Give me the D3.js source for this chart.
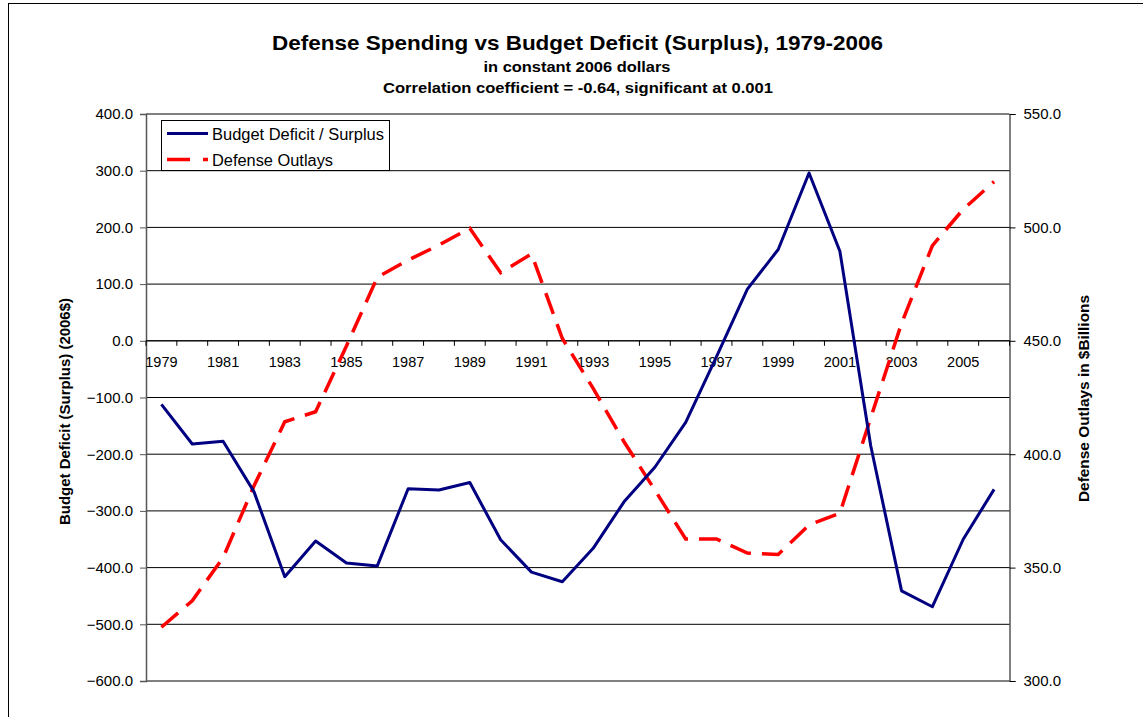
<!DOCTYPE html>
<html>
<head>
<meta charset="utf-8">
<script src="https://cdn.jsdelivr.net/npm/d3@7"></script>
<style>
  html, body { margin: 0; padding: 0; background: #fff; }
  svg { display: block; }
  text { font-family: "Liberation Sans", Arial, sans-serif; fill: #000; }
</style>
</head>
<body>
<svg id="chart" width="1143" height="717"></svg>
<script>
const years = [1979,1980,1981,1982,1983,1984,1985,1986,1987,1988,1989,1990,1991,1992,
               1993,1994,1995,1996,1997,1998,1999,2000,2001,2002,2003,2004,2005,2006];
const budgetDeficit = [-112,-182,-177,-266,-416,-353,-392,-397,-261,-263,-250,-351,-408,-425,
                       -366,-284,-223,-144,-28,91,161,296,158,-185,-441,-469,-350,-262];
const defenseOutlays = [323.7,335.4,354.4,386,414.3,418.7,447.7,478,485.6,492.2,499.6,480,488.3,451,
                        429,405.5,384.2,362.6,362.6,356.4,355.8,368.8,374,416,457.7,492,508,520.2];
const leftTicks = [400,300,200,100,0,-100,-200,-300,-400,-500,-600];
const rightTicks = [550,500,450,400,350,300];
const seriesNames = ["Budget Deficit / Surplus", "Defense Outlays"];
const titleLines = ["Defense Spending vs Budget Deficit (Surplus), 1979-2006",
                    "in constant 2006 dollars",
                    "Correlation coefficient = -0.64, significant at 0.001"];
const leftTitle = "Budget Deficit (Surplus) (2006$)";
const rightTitle = "Defense Outlays in $Billions";

const svg = d3.select("#chart");
const L = 146, R = 1009.5, T = 114, B = 681;

// outer chart border
svg.append("rect").attr("x", 8.5).attr("y", 3.5).attr("width", 1140).attr("height", 720)
  .attr("fill", "none").attr("stroke", "#000").attr("stroke-width", 1);

const x = d3.scaleBand().domain(years).range([L, R]).padding(0);
const yL = d3.scaleLinear().domain([-600, 400]).range([B, T]);
const yR = d3.scaleLinear().domain([300, 550]).range([B, T]);

// gridlines
svg.append("g").selectAll("line").data(leftTicks).join("line")
  .attr("x1", L).attr("x2", R)
  .attr("y1", d => yL(d)).attr("y2", d => yL(d))
  .attr("stroke", "#000").attr("stroke-width", 1);

// left axis
const axL = svg.append("g").attr("transform", `translate(${L},0)`)
  .call(d3.axisLeft(yL).tickValues(leftTicks).tickFormat(d3.format(".1f")).tickSize(6).tickPadding(7));
axL.select(".domain").attr("stroke", "#555").attr("stroke-width", 1.5);
axL.selectAll(".tick line").attr("stroke", "#555");
axL.selectAll("text").style("font-size", "15px").style("font-family", "Liberation Sans, Arial, sans-serif");

// right axis
const axR = svg.append("g").attr("transform", `translate(${R},0)`)
  .call(d3.axisRight(yR).tickValues(rightTicks).tickFormat(d3.format(".1f")).tickSize(6).tickPadding(8));
axR.select(".domain").attr("stroke", "#000");
axR.selectAll("text").style("font-size", "15px").style("font-family", "Liberation Sans, Arial, sans-serif");

// x axis at y = 0 (category axis)
const y0 = yL(0);
const axX = svg.append("g").attr("transform", `translate(0,${y0})`);
axX.append("line").attr("x1", L).attr("x2", R).attr("y1", 0).attr("y2", 0).attr("stroke", "#000");
const boundaries = years.map(d => x(d)).concat([x(years[years.length-1]) + x.bandwidth()]);
axX.selectAll("line.tk").data(boundaries).join("line").attr("class", "tk")
  .attr("x1", d => d).attr("x2", d => d).attr("y1", 0).attr("y2", 5)
  .attr("stroke", "#000");
axX.selectAll("text").data(years.filter((d, i) => i % 2 === 0)).join("text")
  .attr("x", d => x(d) + x.bandwidth() / 2).attr("y", 26)
  .attr("text-anchor", "middle").style("font-size", "14.5px")
  .text(d => d);

// lines
const lineL = d3.line().x((d, i) => x(years[i]) + x.bandwidth() / 2).y(d => yL(d));
const lineR = d3.line().x((d, i) => x(years[i]) + x.bandwidth() / 2).y(d => yR(d));

svg.append("path").datum(defenseOutlays).attr("d", lineR)
  .attr("fill", "none").attr("stroke", "#FF0000").attr("stroke-width", 3.5)
  .attr("stroke-dasharray", "22,11");

svg.append("path").datum(budgetDeficit).attr("d", lineL)
  .attr("fill", "none").attr("stroke", "#000080").attr("stroke-width", 3)
  .attr("stroke-linejoin", "round");

// titles
function fitText(sel, len) {
  return sel.attr("textLength", len).attr("lengthAdjust", "spacingAndGlyphs");
}
fitText(svg.append("text").attr("x", 577.5).attr("y", 50).attr("text-anchor", "middle")
  .style("font-size", "21px").style("font-weight", "bold").text(titleLines[0]), 611);
fitText(svg.append("text").attr("x", 577).attr("y", 72).attr("text-anchor", "middle")
  .style("font-size", "15px").style("font-weight", "bold").text(titleLines[1]), 187);
fitText(svg.append("text").attr("x", 578).attr("y", 93).attr("text-anchor", "middle")
  .style("font-size", "15px").style("font-weight", "bold").text(titleLines[2]), 390);

// axis titles
fitText(svg.append("text").attr("transform", "translate(70,411.5) rotate(-90)").attr("text-anchor", "middle")
  .style("font-size", "14.5px").style("font-weight", "bold").text(leftTitle), 227);
fitText(svg.append("text").attr("transform", "translate(1089,398.5) rotate(-90)").attr("text-anchor", "middle")
  .style("font-size", "14.5px").style("font-weight", "bold").text(rightTitle), 207);

// legend
const lg = svg.append("g");
lg.append("rect").attr("x", 161.5).attr("y", 120.5).attr("width", 228).attr("height", 50)
  .attr("fill", "#fff").attr("stroke", "#000").attr("stroke-width", 1);
lg.append("line").attr("x1", 167).attr("x2", 208).attr("y1", 133.5).attr("y2", 133.5)
  .attr("stroke", "#000080").attr("stroke-width", 3);
lg.append("line").attr("x1", 167).attr("x2", 208).attr("y1", 159.5).attr("y2", 159.5)
  .attr("stroke", "#FF0000").attr("stroke-width", 3.5).attr("stroke-dasharray", "23,13");
fitText(lg.append("text").attr("x", 212).attr("y", 139.5).style("font-size", "16px").text(seriesNames[0]), 172);
fitText(lg.append("text").attr("x", 212).attr("y", 165.5).style("font-size", "16px").text(seriesNames[1]), 121);
</script>
</body>
</html>
